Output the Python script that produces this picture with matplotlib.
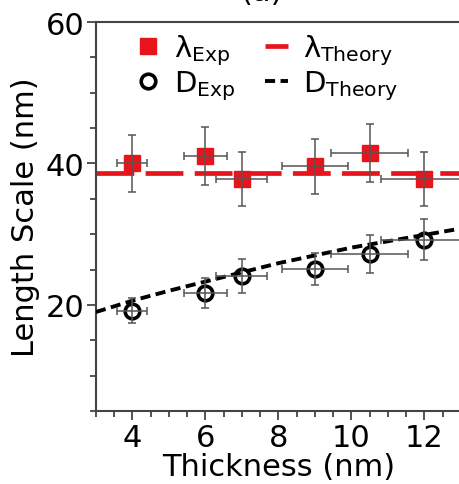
"""
Length scale vs film thickness: measured lambda and D with theory curves.
"""

import matplotlib
matplotlib.use("Agg")
import matplotlib.pyplot as plt
from matplotlib.ticker import MultipleLocator

plt.rcParams.update({
    "font.family": "DejaVu Sans",
    "mathtext.fontset": "dejavusans",
    "axes.linewidth": 1.5,
    "axes.edgecolor": "#444444",
})

# ── data ─────────────────────────────────────────────────────────────────
thickness = [4, 6, 7, 9, 10.5, 12]
thickness_err = [0.41, 0.6, 0.7, 0.9, 1.05, 1.2]

lam_exp = [40.0, 41.0, 37.8, 39.6, 41.5, 37.8]
lam_err = [4.0, 4.1, 3.8, 3.9, 4.1, 3.8]
lam_theory = 38.6

d_exp = [19.2, 21.7, 24.1, 25.1, 27.2, 29.2]
d_err = [1.8, 2.1, 2.4, 2.3, 2.65, 2.9]

theory_x = [3, 4, 5, 6, 7, 8, 9, 10, 11, 12, 13]
d_theory = [19.0, 20.6, 22.0, 23.3, 24.6, 25.9, 27.0, 28.1, 29.0, 29.9, 30.8]

RED = "#e8141c"
ERR = "#555555"

fig = plt.figure(figsize=(4.59, 4.85), dpi=100)
ax = fig.add_axes([0.209, 0.1505, 0.795, 0.802])

# theory lines
ax.axhline(lam_theory, color=RED, lw=3.4, dashes=(8, 2.4), zorder=2,
           label=r"λ$_\mathregular{Theory}$")
ax.plot(theory_x, d_theory, color="black", lw=2.8, dashes=(2.6, 1.4),
        zorder=4, label=r"D$_\mathregular{Theory}$")

# experimental markers (drawn below the error bars)
ax.plot(thickness, lam_exp, "s", color=RED, ms=11, zorder=3,
        label=r"λ$_\mathregular{Exp}$")
ax.plot(thickness, d_exp, "o", mfc="none", mec="black", mew=2.6, ms=10.5,
        zorder=3, label=r"D$_\mathregular{Exp}$")

for vals, errs in [(lam_exp, lam_err), (d_exp, d_err)]:
    ax.errorbar(thickness, vals, yerr=errs, xerr=thickness_err, fmt="none",
                ecolor=ERR, elinewidth=1.1, capsize=3, capthick=1.1, zorder=5)

ax.set_xlim(3, 13)
ax.set_ylim(5, 60)
ax.xaxis.set_major_locator(MultipleLocator(2))
ax.xaxis.set_minor_locator(MultipleLocator(0.5))
ax.yaxis.set_major_locator(MultipleLocator(20))
ax.yaxis.set_minor_locator(MultipleLocator(5))
ax.tick_params(which="both", direction="out", colors="#444444", width=1.3,
               labelsize=22, labelcolor="black")
ax.tick_params(which="major", length=6.5, pad=2)
ax.tick_params(which="minor", length=4.5)
ax.spines["right"].set_visible(False)

ax.set_xlabel("Thickness (nm)", fontsize=22, labelpad=0)
ax.set_ylabel("Length Scale (nm)", fontsize=22, labelpad=4)

h, l = ax.get_legend_handles_labels()
order = [2, 3, 0, 1]
ax.legend([h[i] for i in order], [l[i] for i in order], ncol=2,
          loc="upper left", bbox_to_anchor=(0.07, 1.01), frameon=False,
          fontsize=21, handlelength=0.8, handletextpad=0.5,
          columnspacing=1.0, labelspacing=0.05, borderaxespad=0.1)

fig.text(0.57, 1.0 - 1 / 485, "(a)", fontsize=22, ha="center", va="baseline")

fig.savefig("out.png", dpi=100)
